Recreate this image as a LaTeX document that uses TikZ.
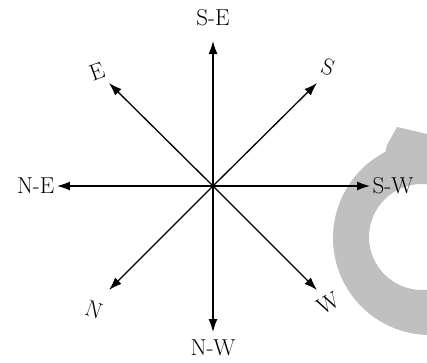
\documentclass[tikz,border=0pt]{standalone}
\usepackage{tikz}
\usetikzlibrary{arrows.meta}
\definecolor{ringgray}{RGB}{192,192,192}

\begin{document}
\begin{tikzpicture}[x=1pt,y=1pt,>={Latex[length=13pt,width=9pt]}, line width=1.3pt]
                \tikzstyle{dirlabel} = [inner sep=2pt, font=\fontsize{23}{26}\selectfont]

                % Frame
                \useasboundingbox (-213,-176) rectangle (214,186);

                % Gray ring (background)
                \begin{scope}
                    \clip (-213,-176) rectangle (214,186);
                    \fill[ringgray, even odd rule] (217,-52) circle (97) (209,-51) circle (53);
                    \fill[ringgray] (172,33) -- (174,41) -- (184,59) -- (214,52) -- (214,21) -- (182,26) -- cycle;
                \end{scope}

                % Centre and arrow ends
                \coordinate (c) at (0,0);
                \coordinate (tse) at (0,145);
                \coordinate (tnw) at (0,-146);
                \coordinate (tne) at (-156,0);
                \coordinate (tsw) at (157,0);
                \coordinate (te) at (-104,103);
                \coordinate (ts) at (104,103);
                \coordinate (tn) at (-104,-104);
                \coordinate (tw) at (104,-104);

                % Arrows
                \draw[->] (c) -- (tse);
                \draw[->] (c) -- (tnw);
                \draw[->] (c) -- (tne);
                \draw[->] (c) -- (tsw);
                \draw[->] (c) -- (te);
                \draw[->] (c) -- (ts);
                \draw[->] (c) -- (tn);
                \draw[->] (c) -- (tw);

                % Labels
                \node[dirlabel] (lse) at (0,168) {S-E};
                \node[dirlabel] (lnw) at (0,-162) {N-W};
                \node[dirlabel, left] (lne) at (tne) {N-E};
                \node[dirlabel, right] (lsw) at (tsw) {S-W};
                \node[dirlabel, rotate=20] (le) at (-116,114) {E};
                \node[dirlabel, rotate=-20] (ls) at (115,119) {S};
                \node[dirlabel, rotate=-20] (ln) at (-119,-124) {N};
                \node[dirlabel, rotate=30] (lw) at (115,-117) {W};
            \end{tikzpicture}
\end{document}
